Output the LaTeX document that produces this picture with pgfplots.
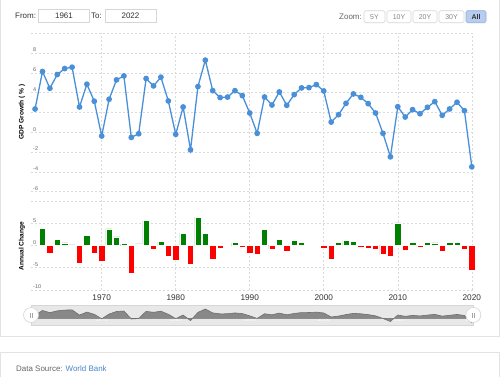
\documentclass[border=0pt]{standalone}
\usepackage{pgfplots}
\pgfplotsset{compat=1.18}
\usepackage{pgfplotstable}
\usepackage{fontspec}
\setmainfont{Liberation Sans}
\definecolor{linec}{HTML}{4A90D9}
\definecolor{posg}{HTML}{008000}
\definecolor{negr}{HTML}{FF0000}
\definecolor{gridc}{HTML}{DADADA}
\definecolor{tickc}{HTML}{666666}
\definecolor{labc}{HTML}{333333}
\definecolor{navbg}{HTML}{E8E8E8}
\definecolor{navfill}{HTML}{888888}
\definecolor{navline}{HTML}{6E6E6E}
\definecolor{cardc}{HTML}{E3E3E3}
\definecolor{btnb}{HTML}{D6D6D6}
\definecolor{allfill}{HTML}{B7CCEE}
\definecolor{allb}{HTML}{8FADDE}
\definecolor{linkc}{HTML}{4A86C8}

\pgfplotstableread{
year g
1961 2.36
1962 6.14
1963 4.45
1964 5.84
1965 6.44
1966 6.58
1967 2.56
1968 4.86
1969 3.14
1970 -0.37
1971 3.34
1972 5.30
1973 5.70
1974 -0.51
1975 -0.14
1976 5.43
1977 4.69
1978 5.57
1979 3.17
1980 -0.20
1981 2.56
1982 -1.76
1983 4.62
1984 7.29
1985 4.21
1986 3.51
1987 3.56
1988 4.21
1989 3.71
1990 1.95
1991 -0.10
1992 3.57
1993 2.76
1994 4.08
1995 2.73
1996 3.81
1997 4.49
1998 4.52
1999 4.82
2000 4.18
2001 1.04
2002 1.78
2003 2.93
2004 3.88
2005 3.54
2006 2.90
2007 1.95
2008 -0.10
2009 -2.47
2010 2.59
2011 1.55
2012 2.29
2013 1.88
2014 2.53
2015 3.10
2016 1.72
2017 2.36
2018 3.04
2019 2.19
2020 -3.48
}\growth

\pgfplotstableread{
year d
1962 3.78
1964 1.39
1965 0.60
1966 0.14
1968 2.30
1971 3.71
1972 1.96
1973 0.40
1975 0.37
1976 5.57
1978 0.88
1981 2.76
1983 6.38
1984 2.67
1987 0.05
1988 0.65
1992 3.67
1994 1.32
1996 1.08
1997 0.68
1998 0.03
1999 0.30
2002 0.74
2003 1.15
2004 0.95
2010 5.06
2012 0.74
2014 0.65
2015 0.57
2017 0.64
2018 0.68
}\pos

\pgfplotstableread{
year d
1963 -1.69
1967 -4.02
1969 -1.72
1970 -3.51
1974 -6.21
1977 -0.74
1979 -2.40
1980 -3.37
1982 -4.32
1985 -3.08
1986 -0.70
1989 -0.50
1990 -1.76
1991 -2.05
1993 -0.81
1995 -1.35
2000 -0.64
2001 -3.14
2005 -0.34
2006 -0.64
2007 -0.95
2008 -2.05
2009 -2.37
2011 -1.04
2013 -0.41
2016 -1.38
2019 -0.85
2020 -5.67
}\neg

\pgfplotsset{
  panel/.style={
    scale only axis, width=442.3bp,
    xmin=1960.45, xmax=2020.2,
    axis line style={draw=none},
    major tick length=0pt,
    grid=major,
    major grid style={gridc, dash pattern=on 2bp off 2bp, line width=0.6bp},
    xtick={1970,1980,1990,2000,2010,2020},
    yticklabel style={anchor=south west, inner sep=0pt, xshift=2bp, yshift=1bp,
      font=\fontsize{5.5}{6}\selectfont, text=tickc},
    clip=false,
  }
}

\begin{document}
\begin{tikzpicture}
\path[use as bounding box, fill=white] (0,0) rectangle (500bp,-377bp);
% cards
\draw[cardc, line width=0.8bp] (0.6bp,5bp) rectangle (499.4bp,-336.7bp);
\draw[cardc, line width=0.8bp] (0.6bp,-352.7bp) rectangle (499.4bp,-390bp);

% top controls
\begin{scope}[font=\fontsize{8}{9}\selectfont]
\node[anchor=west, inner sep=0pt, text=labc] at (15bp,-16bp) {From:};
\draw[btnb, line width=0.6bp] (38bp,-9.3bp) rectangle (89bp,-22.7bp);
\node[inner sep=0pt, text=labc] at (64bp,-16bp) {1961};
\node[anchor=west, inner sep=0pt, text=labc] at (91bp,-16bp) {To:};
\draw[btnb, line width=0.6bp] (105bp,-9.3bp) rectangle (156bp,-22.7bp);
\node[inner sep=0pt, text=labc] at (130.5bp,-16bp) {2022};
\node[anchor=east, inner sep=0pt, text=tickc] at (362bp,-16.5bp) {Zoom:};
\end{scope}
\begin{scope}[font=\fontsize{7}{8}\selectfont]
\foreach \a/\b/\t in {364/385/5Y,387/411/10Y,413/437/20Y,439/464/30Y}{
  \draw[btnb, fill=white, rounded corners=1.5bp, line width=0.6bp] (\a bp,-10.7bp) rectangle (\b bp,-22.7bp);
  \node[inner sep=0pt, text=tickc!80] at ({(\a+\b)/2*1bp},-16.7bp) {\t};
}
\draw[allb, fill=allfill, rounded corners=1.5bp, line width=0.6bp] (466bp,-10.7bp) rectangle (486bp,-22.7bp);
\node[inner sep=0pt, text=labc] at (476bp,-16.7bp) {\bfseries All};
\end{scope}

% upper panel
\begin{axis}[panel, at={(31bp,-33.3bp)}, anchor=north west,
  height=168.4bp, ymin=-7, ymax=10,
  ytick={-6,-4,-2,0,2,4,6,8,10},
  yticklabels={-6,-4,-2,0,2,4,6,8,{}},
  xticklabels={},
]
\addplot[color=linec, line width=1.3bp, mark=*, mark size=2.2bp,
  mark options={fill=linec, draw=linec, solid}] table[x=year, y=g] {\growth};
\end{axis}
\node[rotate=90, inner sep=0pt, text=black, font=\fontsize{6.6}{7}\selectfont\bfseries] at (22bp,-112bp) {GDP Growth ( \% )};

% lower panel
\begin{axis}[panel, at={(31bp,-201bp)}, anchor=north west,
  height=89bp, ymin=-10, ymax=10,
  ytick={-10,-5,0,5,10},
  yticklabels={-10,-5,0,5,{}},
  xticklabels={1970,1980,1990,2000,2010,2020},
  xticklabel style={font=\fontsize{8.3}{9}\selectfont, text=labc, anchor=north, yshift=-1.5bp},
]
\addplot[ybar, bar width=6.3bp, bar shift=0pt, fill=posg, draw=white, line width=0.5bp] table[x=year, y=d] {\pos};
\addplot[ybar, bar width=6.3bp, bar shift=0pt, fill=negr, draw=white, line width=0.5bp] table[x=year, y=d] {\neg};
\end{axis}
\node[rotate=90, inner sep=0pt, text=black, font=\fontsize{6.6}{7}\selectfont\bfseries] at (22bp,-246bp) {Annual Change};

% navigator
\begin{axis}[scale only axis, width=442.3bp, height=20bp,
  at={(31bp,-305bp)}, anchor=north west,
  xmin=1960.45, xmax=2020.2, ymin=-5.2, ymax=10.4,
  axis background/.style={fill=navbg},
  axis line style={draw=btnb, line width=0.5bp},
  major tick length=0pt, ytick=\empty,
  xtick={1970,1980,1990,2000,2010,2020},
  xticklabels={1970,1980,1990,2000,2010,2020},
  xticklabel style={anchor=south, font=\fontsize{5.5}{6}\selectfont, text=white},
  clip=true,
]
\addplot[fill=navfill, draw=navline, line width=0.6bp] table[x=year, y=g] {\growth} \closedcycle;
\end{axis}
% navigator handles
\foreach \hx in {31,473.3}{
  \draw[btnb, fill=white, line width=0.6bp] (\hx bp,-315bp) circle (7.5bp);
  \draw[gray!70, line width=0.5bp] ({(\hx-1)*1bp},-312.5bp) -- ({(\hx-1)*1bp},-317.5bp);
  \draw[gray!70, line width=0.5bp] ({(\hx+1)*1bp},-312.5bp) -- ({(\hx+1)*1bp},-317.5bp);
}

% data source
\node[anchor=west, inner sep=0pt, font=\fontsize{8}{9}\selectfont] at (16bp,-369bp)
  {\textcolor{tickc}{Data Source: }\textcolor{linkc}{World Bank}};
\end{tikzpicture}
\end{document}
